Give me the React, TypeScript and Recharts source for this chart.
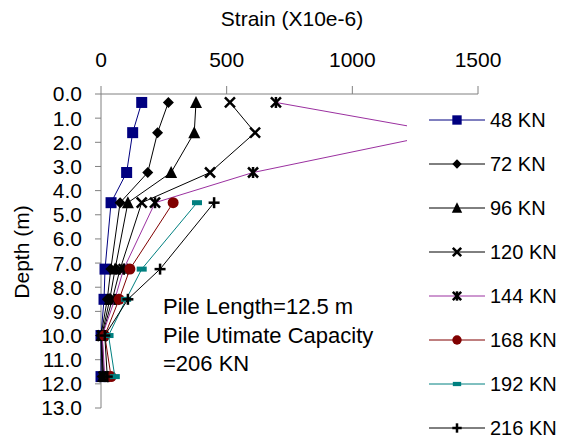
import { ScatterChart, Scatter, XAxis, YAxis } from 'recharts';

// depths (m) of the strain gauges
const depths = [0.35, 1.6, 3.25, 4.5, 7.25, 8.5, 10.0, 11.7];
const lowerDepths = [4.5, 7.25, 8.5, 10.0, 11.7];

// strain (x10e-6) per load step
const strain48 = [162, 126, 102, 40, 16, 12, 0, 0];
const strain72 = [268, 225, 186, 76, 39, 25, 0, 5];
const strain96 = [378, 371, 279, 107, 56, 35, 3, 8];
const strain120 = [513, 613, 434, 162, 76, 45, 5, 10];
const strain144 = [696, 1370, 605, 215, 90, 55, 5, 15];
const strain168 = [287, 115, 72, 15, 40];
const strain192 = [382, 162, 100, 30, 55];
const strain216 = [450, 235, 107, 15, 25];

const xTicks = [0, 500, 1000, 1500];
const yTicks = [0, 1, 2, 3, 4, 5, 6, 7, 8, 9, 10, 11, 12, 13];

const FONT = '"Liberation Sans", Arial, sans-serif';
const AXIS = '#808080';

type Kind = 'square' | 'diamond' | 'triangle' | 'x' | 'star' | 'circle' | 'dash' | 'plus';

const series: { name: string; depth: number[]; values: number[]; line: string; mark: string; kind: Kind }[] = [
  { name: '48 KN', depth: depths, values: strain48, line: '#000080', mark: '#000080', kind: 'square' },
  { name: '72 KN', depth: depths, values: strain72, line: '#000000', mark: '#000000', kind: 'diamond' },
  { name: '96 KN', depth: depths, values: strain96, line: '#000000', mark: '#000000', kind: 'triangle' },
  { name: '120 KN', depth: depths, values: strain120, line: '#000000', mark: '#000000', kind: 'x' },
  { name: '144 KN', depth: depths, values: strain144, line: '#9b30a0', mark: '#000000', kind: 'star' },
  { name: '168 KN', depth: lowerDepths, values: strain168, line: '#800000', mark: '#800000', kind: 'circle' },
  { name: '192 KN', depth: lowerDepths, values: strain192, line: '#008080', mark: '#008080', kind: 'dash' },
  { name: '216 KN', depth: lowerDepths, values: strain216, line: '#000000', mark: '#000000', kind: 'plus' },
];

function Marker({ kind, cx, cy, color, s = 1 }: { kind: Kind; cx: number; cy: number; color: string; s?: number }) {
  const h = 5.5 * s;
  switch (kind) {
    case 'square':
      return <rect x={cx - h} y={cy - h} width={2 * h} height={2 * h} fill={color} />;
    case 'diamond':
      return <polygon points={`${cx},${cy - h} ${cx + h},${cy} ${cx},${cy + h} ${cx - h},${cy}`} fill={color} />;
    case 'triangle':
      return <polygon points={`${cx},${cy - h - 1} ${cx + h + 0.5},${cy + h} ${cx - h - 0.5},${cy + h}`} fill={color} />;
    case 'x':
      return (
        <g stroke={color} strokeWidth={2.5}>
          <line x1={cx - h + 0.5} y1={cy - h + 0.5} x2={cx + h - 0.5} y2={cy + h - 0.5} />
          <line x1={cx - h + 0.5} y1={cy + h - 0.5} x2={cx + h - 0.5} y2={cy - h + 0.5} />
        </g>
      );
    case 'star':
      return (
        <g stroke={color} strokeWidth={2.5}>
          <line x1={cx - h + 0.5} y1={cy - h + 0.5} x2={cx + h - 0.5} y2={cy + h - 0.5} />
          <line x1={cx - h + 0.5} y1={cy + h - 0.5} x2={cx + h - 0.5} y2={cy - h + 0.5} />
          <line x1={cx} y1={cy - h} x2={cx} y2={cy + h} />
        </g>
      );
    case 'circle':
      return <circle cx={cx} cy={cy} r={h} fill={color} />;
    case 'dash':
      return <rect x={cx - h + 0.5} y={cy - 2.5 * s} width={2 * h - 1} height={5 * s} fill={color} />;
    case 'plus':
      return (
        <g stroke={color} strokeWidth={2.5}>
          <line x1={cx - h} y1={cy} x2={cx + h} y2={cy} />
          <line x1={cx} y1={cy - h} x2={cx} y2={cy + h} />
        </g>
      );
  }
  return null;
}

export default function App() {
  return (
    <div style={{ position: 'absolute', left: 0, top: 0, width: 566, height: 440, background: '#fff', fontFamily: FONT }}>
      <ScatterChart width={566} height={440} margin={{ top: 0, right: 88, bottom: 32, left: 0 }} style={{ fontFamily: FONT }}>
        <XAxis
          type="number"
          dataKey="strain"
          orientation="top"
          domain={[0, 1500]}
          ticks={xTicks}
          height={94}
          tickSize={8}
          tickMargin={19}
          stroke={AXIS}
          tick={{ fill: '#000', fontSize: 21 }}
          label={{
            content: () => (
              <text x={292} y={26} textAnchor="middle" fontSize={21} fill="#000">
                Strain (X10e-6)
              </text>
            ),
          }}
        />
        <YAxis
          type="number"
          dataKey="depth"
          reversed
          domain={[0, 13]}
          ticks={yTicks}
          interval={0}
          width={101}
          tickSize={6}
          tickMargin={13}
          stroke={AXIS}
          tick={{ fill: '#000', fontSize: 21 }}
          tickFormatter={(v: number) => v.toFixed(1)}
          label={{
            content: () => (
              <text x={29} y={252} textAnchor="middle" fontSize={21} fill="#000" transform="rotate(-90 29 252)">
                Depth (m)
              </text>
            ),
          }}
        />
        {series.map((s) => (
          <Scatter
            key={s.name}
            name={s.name}
            data={s.values.map((v, i) => ({ strain: v, depth: s.depth[i] }))}
            line={{ stroke: s.line, strokeWidth: 1 }}
            isAnimationActive={false}
            shape={(p: any) => <Marker kind={s.kind} cx={p.cx} cy={p.cy} color={s.mark} />}
          />
        ))}
      </ScatterChart>

      <div style={{ position: 'absolute', left: 163, top: 293, fontSize: 22, lineHeight: '28.5px', color: '#000' }}>
        Pile Length=12.5 m
        <br />
        Pile Utimate Capacity
        <br />
        =206 KN
      </div>

      <div style={{ position: 'absolute', left: 407, top: 98, width: 159, height: 342, background: '#fff' }}>
        {series.map((s) => (
          <div key={s.name} style={{ height: 44, display: 'flex', alignItems: 'center' }}>
            <svg width={56} height={20} style={{ marginLeft: 22, marginRight: 5 }}>
              <line x1={0} y1={10} x2={56} y2={10} stroke={s.line} strokeWidth={1} />
              <Marker kind={s.kind} cx={28} cy={10} color={s.mark} s={0.85} />
            </svg>
            <span style={{ fontSize: 20, color: '#000' }}>{s.name}</span>
          </div>
        ))}
      </div>
    </div>
  );
}
